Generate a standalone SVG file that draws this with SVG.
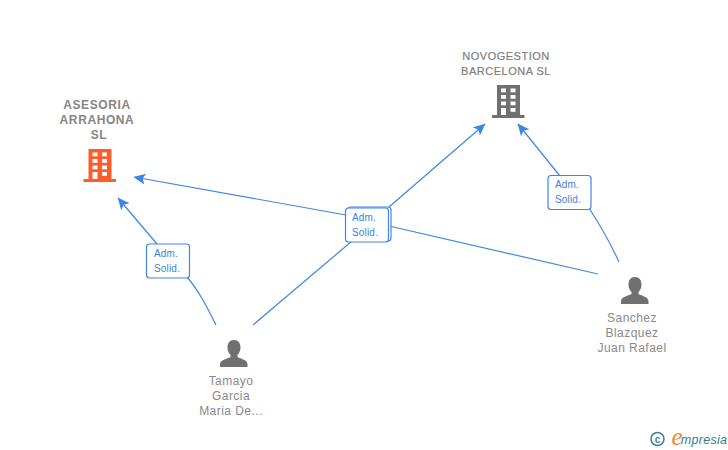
<svg xmlns="http://www.w3.org/2000/svg" width="728" height="450" viewBox="0 0 728 450">
<style>
text{font-family:"Liberation Sans",Arial,sans-serif;text-anchor:middle}
.co{font-size:12px;font-weight:bold;fill:#858585;letter-spacing:.6px}
.co2{font-size:11px;fill:#808080;letter-spacing:.5px;stroke:#808080;stroke-width:.2px}
.pe{font-size:12px;fill:#8a8a8a;letter-spacing:.45px}
.lb{font-size:10px;fill:#3c82e0;letter-spacing:.2px}
.cn{fill:none;stroke:#3f86e4;stroke-width:1.2}
.box{fill:#fff;stroke:#3f86e4;stroke-width:1.2}
</style>
<defs>
<marker id="ah" markerUnits="userSpaceOnUse" markerWidth="12" markerHeight="12" refX="10.500" refY="5" orient="auto" viewBox="0 0 11 10"><path d="M11 5L0 0L2.500 5L0 10Z" fill="#3f86e4"/></marker>
<path id="bld" d="M5 0H28V30H32.500V33H0V30H5Z"/>
<g id="win" fill="#fff">
<rect x="9" y="3.500" width="5" height="3.800"/><rect x="18.500" y="3.500" width="5" height="3.800"/>
<rect x="9" y="10" width="5" height="3.800"/><rect x="18.500" y="10" width="5" height="3.800"/>
<rect x="9" y="16.500" width="5" height="3.800"/><rect x="18.500" y="16.500" width="5" height="3.800"/>
<rect x="9" y="23" width="5" height="7"/><rect x="18.500" y="23" width="5" height="3.800"/>
</g>
<path id="usr" d="M14 0C18.500 0 20.500 3.500 20.500 7.500C20.500 11 19 13.500 17.500 15V17C21 19 27.500 19.500 27.500 24.500V27H0V24.500C0 19.500 7 19 10.500 17V15C9 13.500 7.500 11 7.500 7.500C7.500 3.500 9.500 0 14 0Z" fill="#707070"/>
</defs>
<g id="connectors">
<path class="cn" d="M216 325C205 303 197 288 186 276"/>
<path class="cn" d="M157 244L118 198" marker-end="url(#ah)"/>
<path class="cn" d="M253 325L352 241"/>
<path class="cn" d="M389 207L485 124" marker-end="url(#ah)"/>
<path class="cn" d="M598 274L389 226"/>
<path class="cn" d="M346 215L134 177" marker-end="url(#ah)"/>
<path class="cn" d="M619 262C609 240 600 225 589 208"/>
<path class="cn" d="M560 176L518 124" marker-end="url(#ah)"/>
</g>
<g id="node-asesoria">
<text class="co" x="97" y="109">ASESORIA</text>
<text class="co" x="97" y="124">ARRAHONA</text>
<text class="co" x="99" y="139">SL</text>
<use href="#bld" x="83.500" y="149" fill="#ff5c2b"/><use href="#win" x="83.500" y="149"/>
</g>
<g id="node-novogestion">
<text class="co2" x="506" y="60">NOVOGESTION</text>
<text class="co2" x="506" y="75">BARCELONA SL</text>
<use href="#bld" x="492" y="85" fill="#707070"/><use href="#win" x="492" y="85"/>
</g>
<g id="node-tamayo">
<use href="#usr" x="220" y="340"/>
<text class="pe" x="231" y="385">Tamayo</text>
<text class="pe" x="231" y="400">Garcia</text>
<text class="pe" x="231" y="415">Maria De...</text>
</g>
<g id="node-sanchez">
<use href="#usr" x="621" y="277"/>
<text class="pe" x="632" y="322">Sanchez</text>
<text class="pe" x="632" y="337">Blazquez</text>
<text class="pe" x="632" y="352">Juan Rafael</text>
</g>
<g id="label-1">
<rect class="box" x="146.500" y="244" width="43" height="34" rx="3"/>
<text class="lb" x="166" y="257">Adm.</text><text class="lb" x="167" y="272">Solid.</text>
</g>
<g id="label-2">
<rect class="box" x="348" y="207" width="43" height="34" rx="3"/>
<rect class="box" x="345.500" y="208" width="43" height="34" rx="3"/>
<text class="lb" x="364" y="221">Adm.</text><text class="lb" x="365" y="236">Solid.</text>
</g>
<g id="label-3">
<rect class="box" x="548" y="175.500" width="43" height="34" rx="3"/>
<text class="lb" x="567" y="188">Adm.</text><text class="lb" x="568" y="203">Solid.</text>
</g>
<g id="credit">
<circle cx="657.500" cy="439" r="6.500" fill="none" stroke="#3d7f95" stroke-width="1.500"/>
<text x="657.500" y="442.500" style="font-size:10px;font-weight:bold" fill="#3d7f95">c</text>
<text x="677" y="445" style="font-family:'Liberation Serif',serif;font-size:25px;font-style:italic" fill="#f08a1d">e</text>
<text x="704" y="444" style="font-size:12.500px;font-style:italic;letter-spacing:.3px" fill="#2f7f8f">mpresia</text>
</g>
</svg>
